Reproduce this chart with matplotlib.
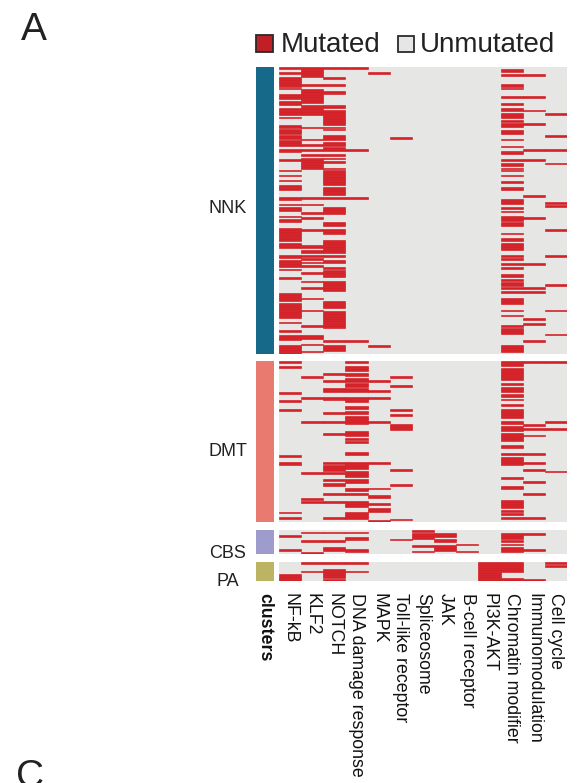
import numpy as np
import matplotlib
matplotlib.use("Agg")
import matplotlib.pyplot as plt
from matplotlib.patches import Rectangle

plt.rcParams['font.family'] = ['Liberation Sans', 'DejaVu Sans']

# ---------------- data ----------------
pathways = ["NF-kB", "KLF2", "NOTCH", "DNA damage response", "MAPK",
            "Toll-like receptor", "Spliceosome", "JAK", "B-cell receptor",
            "PI3K-AKT", "Chromatin modifier", "Immunomodulation", "Cell cycle"]
clusters = ["NNK", "DMT", "CBS", "PA"]
cluster_sizes = [168, 94, 14, 11]
cluster_colors = ["#17698A", "#E97A70", "#9D9CCC", "#BDB463"]

# mutated sample ranges (start, end) per pathway, samples ordered within cluster
nnk_mut = {
    "NF-kB": [(0, 1), (3, 4), (6, 13), (16, 19), (20, 22), (24, 28), (29, 30), (34, 39), (40, 42),
              (43, 46), (48, 50), (54, 55), (60, 61), (63, 64), (66, 67), (69, 72), (76, 78), (80, 81),
              (82, 84), (87, 88), (89, 91), (94, 102), (103, 106), (110, 112), (113, 117), (118, 119),
              (123, 124), (132, 137), (138, 147), (149, 150), (154, 155), (157, 160), (163, 168)],
    "KLF2": [(0, 6), (10, 11), (13, 21), (22, 28), (35, 36), (42, 43), (45, 46), (48, 49), (51, 52),
             (53, 60), (76, 77), (80, 81), (85, 86), (88, 89), (95, 96), (104, 106), (107, 109),
             (110, 111), (112, 113), (114, 115), (116, 117), (120, 121), (125, 126), (129, 130),
             (135, 136), (142, 143), (151, 152), (157, 159), (162, 163), (166, 167)],
    "NOTCH": [(0, 1), (6, 7), (10, 11), (14, 16), (22, 24), (25, 34), (35, 37), (40, 43), (44, 46),
              (47, 49), (51, 52), (53, 54), (55, 56), (59, 69), (70, 75), (76, 77), (82, 86), (91, 93),
              (95, 98), (101, 109), (110, 111), (113, 115), (117, 118), (119, 123), (125, 131),
              (137, 141), (143, 153), (160, 161), (163, 166)],
    "DNA damage response": [(0, 1), (48, 49), (76, 77), (160, 161)],
    "MAPK": [(3, 4), (163, 164)],
    "Toll-like receptor": [(41, 42)],
    "Chromatin modifier": [(1, 3), (4, 5), (10, 13), (17, 18), (21, 22), (24, 26), (27, 30), (31, 32),
                           (33, 35), (37, 39), (42, 43), (46, 47), (49, 51), (54, 55), (56, 58), (59, 61),
                           (63, 64), (67, 68), (70, 72), (77, 80), (82, 83), (84, 85), (87, 90), (91, 93),
                           (97, 98), (100, 102), (103, 107), (110, 111), (112, 113), (115, 116),
                           (117, 118), (121, 123), (124, 125), (126, 128), (129, 130), (131, 132),
                           (135, 139), (142, 143), (145, 146), (151, 152), (153, 156), (163, 167)],
    "Immunomodulation": [(4, 5), (17, 18), (25, 26), (33, 34), (48, 49), (54, 55), (75, 76), (88, 89),
                         (115, 116), (129, 130), (131, 132), (147, 148), (150, 151), (160, 161)],
    "Cell cycle": [(27, 28), (40, 41), (48, 49), (56, 57), (79, 80), (81, 82), (95, 96), (110, 111),
                   (127, 128), (142, 143), (156, 157)],
}

dmt_mut = {
    "NF-kB": [(0, 1), (3, 4), (18, 19), (23, 24), (28, 29), (55, 56), (59, 61), (88, 89), (91, 92)],
    "KLF2": [(9, 10), (21, 22), (35, 36), (65, 66), (80, 81), (82, 83)],
    "NOTCH": [(7, 8), (11, 12), (16, 18), (21, 23), (30, 31), (35, 36), (42, 43), (59, 60), (61, 64),
              (65, 66), (69, 70), (71, 73), (77, 78), (82, 83), (91, 92)],
    "DNA damage response": [(0, 1), (3, 6), (7, 9), (10, 12), (13, 15), (16, 18), (21, 24), (26, 28),
                            (29, 31), (32, 37), (41, 44), (45, 46), (47, 48), (53, 55), (59, 63),
                            (64, 68), (69, 71), (74, 76), (77, 78), (82, 85), (88, 92)],
    "MAPK": [(11, 12), (17, 18), (21, 22), (35, 36), (59, 60), (74, 75), (78, 80), (83, 84),
             (86, 88), (93, 94)],
    "Toll-like receptor": [(9, 10), (14, 15), (28, 29), (31, 32), (37, 40), (63, 64), (72, 73), (92, 93)],
    "Chromatin modifier": [(0, 3), (4, 11), (13, 14), (15, 18), (19, 21), (22, 23), (25, 26), (28, 33),
                           (35, 37), (38, 41), (42, 47), (49, 51), (54, 55), (56, 61), (68, 69),
                           (73, 75), (81, 86), (87, 88), (89, 90), (91, 92)],
    "Immunomodulation": [(0, 1), (37, 38), (39, 40), (43, 44), (54, 55), (59, 60), (63, 64), (70, 71),
                         (77, 78), (91, 92)],
    "Cell cycle": [(0, 1), (35, 36), (39, 40), (64, 65)],
}

cbs_mut = {
    "NF-kB": [(3, 4), (11, 12)],
    "KLF2": [(1, 2), (6, 7), (13, 14)],
    "NOTCH": [(1, 2), (6, 7), (10, 12)],
    "DNA damage response": [(1, 2), (4, 6), (11, 13)],
    "Toll-like receptor": [(5, 6)],
    "Spliceosome": [(0, 1), (2, 5), (9, 10), (12, 13)],
    "JAK": [(2, 4), (5, 7), (9, 12)],
    "B-cell receptor": [(8, 9), (12, 13)],
    "Chromatin modifier": [(2, 5), (6, 7), (8, 9), (10, 13)],
    "Immunomodulation": [(2, 3), (11, 12)],
}

pa_mut = {
    "NF-kB": [(7, 11)],
    "KLF2": [(0, 1), (5, 6)],
    "NOTCH": [(0, 1), (4, 9), (10, 11)],
    "DNA damage response": [(0, 1), (5, 6)],
    "PI3K-AKT": [(0, 11)],
    "Chromatin modifier": [(0, 6), (9, 11)],
    "Immunomodulation": [(10, 11)],
    "Cell cycle": [(0, 1), (2, 3)],
}
cluster_data = [nnk_mut, dmt_mut, cbs_mut, pa_mut]

# ---------------- layout ----------------
W, H = 577, 783
fig = plt.figure(figsize=(W / 100, H / 100), dpi=100)

def fx(x):
    return x / W

def fy(y):
    return 1 - y / H

RED = "#D42027"
GREY = "#E6E6E5"
hm_left, hm_right = 279, 567
bar_left, bar_right = 256, 274
block_px = [(67, 354), (361, 522), (530, 554), (562, 581)]
label_y = [208.5, 451, 554, 581.5]

heat_axes = []
bar_axes = []
for k, (name, n, color, data) in enumerate(zip(clusters, cluster_sizes, cluster_colors, cluster_data)):
    top, bot = block_px[k]
    M = np.zeros((n, len(pathways)))
    for pw, ivs in data.items():
        j = pathways.index(pw)
        for s, e in ivs:
            M[s:e, j] = 1
    ax = fig.add_axes([fx(hm_left), fy(bot), fx(hm_right - hm_left), (bot - top) / H])
    ax.set_facecolor(GREY)
    rows, cols = np.nonzero(M)
    ax.barh(rows + 0.5, 1.0, left=cols, height=1.0, color=RED, edgecolor=RED,
            linewidth=0.45, antialiased=True)
    ax.set_xlim(0, len(pathways))
    ax.set_ylim(n, 0)
    ax.set_xticks([])
    ax.set_yticks([])
    for s in ax.spines.values():
        s.set_visible(False)
    heat_axes.append(ax)

    bx = fig.add_axes([fx(bar_left), fy(bot), fx(bar_right - bar_left), (bot - top) / H])
    bx.set_facecolor(color)
    bx.set_xticks([])
    bx.set_yticks([])
    for s in bx.spines.values():
        s.set_visible(False)
    bar_axes.append(bx)

    fig.text(fx(228), fy(label_y[k]), name, ha='center', va='center', fontsize=13, color='#222222')

# column labels
axp = heat_axes[-1]
axp.set_xticks(np.arange(len(pathways)) + 0.5)
axp.set_xticklabels(pathways, rotation=270, fontsize=12.8, color='#111111')
axp.tick_params(axis='x', length=0, pad=8.5)

bxp = bar_axes[-1]
bxp.set_xticks([0.5])
bxp.set_xlim(0, 1)
bxp.set_xticklabels(["clusters"], rotation=270, fontsize=12.8, fontweight='bold', color='#111111')
bxp.tick_params(axis='x', length=0, pad=8.5)

# legend
fig.add_artist(Rectangle((fx(256), fy(52)), fx(17), 17 / H, facecolor='#C11F26',
                         edgecolor='#2A2A2A', linewidth=1.3, transform=fig.transFigure))
fig.text(fx(281), fy(52), "Mutated", fontsize=20, va='baseline', ha='left', color='#222222')
fig.add_artist(Rectangle((fx(398), fy(52)), fx(16), 16 / H, facecolor='#E6E6E6',
                         edgecolor='#2A2A2A', linewidth=1.3, transform=fig.transFigure))
fig.text(fx(420), fy(52), "Unmutated", fontsize=20, va='baseline', ha='left', color='#222222')

# panel letters
fig.text(fx(21), fy(40), "A", fontsize=28, va='baseline', ha='left', color='#222222')
fig.text(fx(16), fy(787), "C", fontsize=28, va='baseline', ha='left', color='#222222')

fig.savefig("out.png", dpi=100)
